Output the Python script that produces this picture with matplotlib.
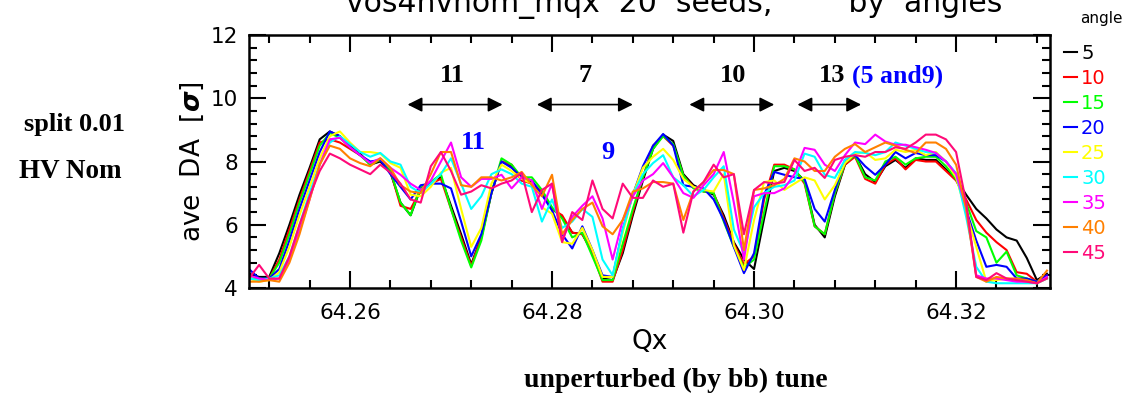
import matplotlib
matplotlib.use("Agg")
import matplotlib.pyplot as plt
import numpy as np
from matplotlib.ticker import MultipleLocator

# tune scan, step 0.001
qx = np.round(64.250 + 0.001 * np.arange(80), 3)

angles = [5, 10, 15, 20, 25, 30, 35, 40, 45]
colors = ['#000000', '#ff0000', '#00ff00', '#0000ff', '#ffff00',
          '#00ffff', '#ff00ff', '#ff8000', '#ff0a78']

da5 = [4.45, 4.35, 4.35, 5.1, 6.0, 6.95, 7.8, 8.7, 8.95, 8.8,
       8.5, 8.25, 7.9, 8.0, 7.65, 6.7, 6.3, 7.15, 7.3, 7.5,
       6.6, 5.7, 4.75, 5.6, 7.0, 8.0, 7.85, 7.4, 7.35, 7.0,
       6.5, 6.25, 5.75, 5.7, 5.15, 4.3, 4.25, 5.1, 6.3, 7.4,
       8.4, 8.85, 8.65, 7.6, 7.25, 7.1, 6.95, 6.3, 5.45, 4.9,
       4.6, 6.2, 7.7, 7.8, 7.7, 7.4, 6.0, 5.6, 6.9, 7.9,
       8.2, 7.6, 7.35, 7.85, 8.05, 7.8, 8.1, 8.05, 8.05, 7.75,
       7.45, 6.95, 6.5, 6.2, 5.85, 5.6, 5.5, 4.95, 4.25, 4.45]
da10 = [4.3, 4.25, 4.3, 4.9, 5.85, 6.8, 7.7, 8.6, 8.7, 8.6,
        8.4, 8.2, 7.95, 8.05, 7.7, 6.6, 6.5, 7.1, 7.3, 7.45,
        6.5, 5.6, 4.7, 5.6, 7.0, 8.0, 7.9, 7.4, 7.3, 7.05,
        6.5, 6.3, 5.75, 5.7, 5.1, 4.2, 4.2, 5.2, 6.4, 7.5,
        8.5, 8.8, 8.5, 7.55, 7.2, 7.05, 7.0, 6.2, 5.4, 4.75,
        5.0, 6.8, 7.9, 7.9, 7.75, 7.3, 5.95, 5.7, 7.0, 7.9,
        8.15, 7.45, 7.3, 7.9, 8.1, 7.75, 8.05, 8.0, 8.0, 7.7,
        7.4, 6.8, 6.15, 5.75, 5.45, 5.2, 4.5, 4.45, 4.2, 4.4]
da15 = [4.3, 4.3, 4.3, 4.8, 5.7, 6.7, 7.6, 8.5, 8.9, 8.75,
        8.45, 8.2, 7.9, 8.05, 7.7, 6.7, 6.3, 7.2, 7.35, 7.6,
        6.5, 5.5, 4.65, 5.5, 7.0, 8.1, 7.9, 7.5, 7.5, 7.1,
        6.55, 6.2, 5.6, 5.75, 5.0, 4.25, 4.25, 5.4, 6.5, 7.5,
        8.4, 8.8, 8.55, 7.55, 7.15, 7.05, 7.0, 6.1, 5.3, 4.65,
        4.9, 6.4, 7.85, 7.85, 7.75, 7.35, 5.95, 5.7, 7.0, 7.95,
        8.2, 7.5, 7.4, 8.0, 8.15, 7.9, 8.1, 8.15, 8.15, 7.85,
        7.45, 6.7, 5.8, 5.6, 4.8, 5.15, 4.4, 4.3, 4.2, 4.35]
da20 = [4.6, 4.3, 4.3, 4.6, 5.5, 6.5, 7.4, 8.3, 8.95, 8.8,
        8.45, 8.2, 8.0, 8.05, 7.6, 7.2, 6.8, 7.25, 7.3, 7.3,
        7.15, 6.1, 5.0, 5.7, 7.0, 8.0, 7.8, 7.5, 7.4, 6.95,
        6.45, 5.7, 5.25, 5.95, 5.2, 4.4, 4.35, 5.85, 6.95, 7.85,
        8.5, 8.87, 8.5, 7.25, 7.2, 7.15, 6.8, 6.15, 5.3, 4.47,
        5.1, 6.95, 7.67, 7.58, 7.5, 7.45, 6.5, 6.1, 7.1, 8.05,
        8.2, 7.85, 7.58, 7.9, 8.3, 8.1, 8.27, 8.2, 8.2, 8.0,
        7.6, 6.47, 5.5, 4.67, 4.73, 4.67, 4.3, 4.3, 4.2, 4.4]
da25 = [4.3, 4.2, 4.25, 4.5, 5.3, 6.3, 7.2, 8.1, 8.8, 8.95,
        8.6, 8.3, 8.3, 8.25, 7.95, 7.8, 6.95, 6.9, 7.2, 7.65,
        7.8, 6.5, 5.3, 5.9, 7.3, 7.9, 7.7, 7.45, 7.3, 6.55,
        6.35, 5.45, 5.4, 5.9, 5.2, 4.35, 4.35, 5.75, 6.95, 7.8,
        8.15, 8.4, 8.05, 7.45, 7.2, 7.1, 7.05, 7.6, 5.35, 4.57,
        6.15, 7.35, 7.4, 7.1, 7.3, 7.5, 7.4, 6.8, 7.25, 7.95,
        8.25, 8.3, 8.05, 8.1, 8.37, 8.3, 8.37, 8.2, 8.3, 8.0,
        7.5, 6.4, 5.3, 4.2, 4.25, 4.3, 4.25, 4.2, 4.15, 4.3]
da30 = [4.3, 4.25, 4.3, 4.4, 5.0, 6.0, 7.0, 7.9, 8.6, 8.8,
        8.55, 8.3, 8.15, 8.27, 8.0, 7.9, 7.2, 7.0, 7.3, 7.6,
        8.1, 7.3, 6.5, 6.9, 7.6, 7.75, 7.6, 7.3, 7.2, 6.1,
        6.8, 5.9, 6.1, 6.5, 6.25, 4.9, 4.4, 5.85, 6.95, 7.6,
        7.95, 8.2, 7.5, 7.25, 6.9, 7.1, 7.5, 7.85, 5.85, 5.1,
        6.55, 7.0, 7.2, 7.25, 7.4, 8.25, 8.15, 7.58, 7.48, 8.05,
        8.3, 8.27, 8.2, 8.3, 8.6, 8.5, 8.4, 8.3, 8.27, 8.0,
        7.63, 6.25, 4.67, 4.2, 4.15, 4.15, 4.15, 4.15, 4.15, 4.3]
da35 = [4.4, 4.3, 4.25, 4.3, 4.9, 5.8, 6.8, 7.9, 8.7, 8.75,
        8.45, 8.2, 7.95, 8.1, 7.8, 7.58, 7.3, 7.1, 7.4, 8.0,
        8.6, 7.5, 7.2, 7.45, 7.45, 7.58, 7.15, 7.5, 7.4, 6.5,
        7.3, 5.5, 6.25, 6.6, 6.9, 6.2, 4.9, 6.15, 6.9, 7.4,
        7.6, 7.95, 7.5, 7.0, 6.85, 7.25, 7.6, 8.3, 6.7, 4.9,
        6.9, 7.0, 7.0, 7.15, 7.6, 8.43, 8.37, 7.9, 7.7, 8.2,
        8.6, 8.55, 8.85, 8.63, 8.53, 8.53, 8.45, 8.37, 8.27, 8.0,
        7.6, 6.55, 4.4, 4.3, 4.3, 4.25, 4.2, 4.2, 4.15, 4.35]
da40 = [4.2, 4.2, 4.25, 4.2, 4.8, 5.7, 6.8, 7.9, 8.5, 8.4,
        8.1, 7.95, 7.85, 8.1, 7.8, 7.25, 7.05, 7.0, 7.6, 8.3,
        8.3, 7.25, 7.2, 7.5, 7.5, 7.4, 7.5, 7.67, 7.25, 6.9,
        7.58, 5.7, 6.15, 6.5, 6.7, 5.95, 5.7, 6.15, 7.05, 7.15,
        7.35, 7.35, 7.3, 6.15, 7.05, 7.35, 7.73, 7.73, 7.6, 5.2,
        7.1, 7.15, 7.25, 7.45, 8.1, 8.0, 7.7, 7.7, 8.15, 8.4,
        8.55, 8.3, 8.45, 8.6, 8.5, 8.37, 8.27, 8.6, 8.6, 8.4,
        7.9, 6.5, 4.35, 4.2, 4.35, 4.3, 4.3, 4.25, 4.15, 4.55]
da45 = [4.3, 4.73, 4.3, 4.3, 5.0, 6.0, 6.9, 7.7, 8.25, 8.1,
        7.9, 7.75, 7.6, 7.9, 7.65, 7.3, 6.8, 6.7, 7.85, 8.3,
        7.7, 6.95, 7.05, 7.25, 7.15, 7.3, 7.4, 7.64, 6.4, 7.1,
        7.3, 5.45, 6.4, 6.15, 7.4, 6.5, 6.2, 7.3, 6.85, 6.85,
        7.4, 7.2, 7.3, 5.75, 7.05, 7.35, 7.9, 7.5, 7.6, 5.7,
        7.1, 7.35, 7.3, 7.35, 8.05, 7.7, 7.8, 7.48, 8.05, 8.15,
        8.2, 8.15, 8.3, 8.3, 8.45, 8.4, 8.6, 8.85, 8.85, 8.7,
        8.3, 6.7, 4.35, 4.25, 4.47, 4.3, 4.25, 4.2, 4.15, 4.3]

series = [da5, da10, da15, da20, da25, da30, da35, da40, da45]

# resonance bands: label, x-from, x-to, label x
bands = [('11', 64.2657, 64.2751, 64.2701), ('7', 64.2785, 64.2880, 64.2833),
         ('10', 64.2936, 64.3020, 64.2979), ('13', 64.3043, 64.3106, 64.3077)]

serif = 'Liberation Serif'

fig = plt.figure(figsize=(11.27, 3.96), dpi=100)
ax = fig.add_axes([249/1127, 1-288/396, 801/1127, 253/396])

for a, c, d in zip(angles, colors, series):
    ax.plot(qx, d, color=c, lw=1.5, label=str(a))

ax.set_xlim(64.25, 64.3293)
ax.set_ylim(4, 12)
ax.xaxis.set_major_locator(MultipleLocator(0.02))
ax.xaxis.set_minor_locator(MultipleLocator(0.004))
ax.yaxis.set_major_locator(MultipleLocator(2))
ax.yaxis.set_minor_locator(MultipleLocator(0.4))
ax.xaxis.set_major_formatter(plt.FuncFormatter(lambda v, p: '%.2f' % v))
ax.tick_params(which='both', direction='in', top=True, right=True, width=1.5)
ax.tick_params(which='major', length=12, labelsize=15.5, pad=8)
ax.tick_params(axis='x', which='major', pad=11)
ax.tick_params(which='minor', length=6)
for s in ax.spines.values():
    s.set_linewidth(1.8)

ax.set_xlabel('Qx', fontsize=19, labelpad=4)
ax.set_ylabel(r'ave  DA  [$\boldsymbol{\sigma}$]', fontsize=19, labelpad=3)

for lab, x0, x1, xt in bands:
    ax.annotate('', xy=(x0, 9.8), xytext=(x1, 9.8),
                arrowprops=dict(arrowstyle='<|-|>', color='black', lw=1.2,
                                mutation_scale=22, shrinkA=0, shrinkB=0))
    ax.text(xt, 10.71, lab, fontfamily=serif, fontweight='bold', fontsize=19,
            ha='center', va='center')
ax.text(64.3097, 10.71, '(5 and9)', fontfamily=serif, fontweight='bold',
        fontsize=18.5, color='#0000ff', ha='left', va='center')
ax.text(64.2722, 8.6, '11', fontfamily=serif, fontweight='bold',
        fontsize=19, color='#0000ff', ha='center', va='center')
ax.text(64.2855, 8.3, '9', fontfamily=serif, fontweight='bold', fontsize=19,
        color='#0000ff', ha='center', va='center')

leg = ax.legend(loc='upper left', bbox_to_anchor=(1.0, 1.02), frameon=False,
                fontsize=14, handlelength=0.7, handletextpad=0.2,
                labelspacing=0.31, borderaxespad=0.3, labelcolor='linecolor')
fig.text(1101/1127, 1-18/396, 'angle', fontsize=11, ha='center', va='center')

fig.text(674/1127, 1-12/396, 'vos4hvnom_mqx  20  seeds,        by  angles',
         fontsize=21.5, ha='center', va='baseline')
fig.text(75/1127, 1-124/396, 'split 0.01', fontfamily=serif, fontweight='bold',
         fontsize=19, ha='center', va='center')
fig.text(70/1127, 1-172/396, 'HV Nom', fontfamily=serif, fontweight='bold',
         fontsize=19.5, ha='center', va='center')
fig.text(676/1127, 1-380/396, 'unperturbed (by bb) tune', fontfamily=serif,
         fontweight='bold', fontsize=20, ha='center', va='center')

fig.savefig('out.png', dpi=100)
